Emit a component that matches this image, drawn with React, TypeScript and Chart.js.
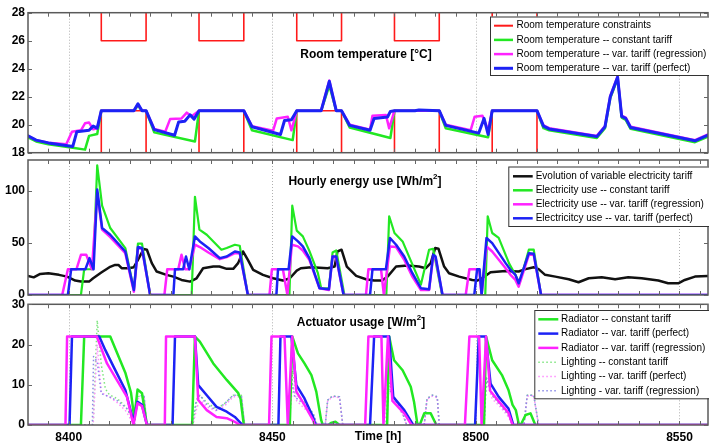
import React, { useEffect, useRef } from 'react';
import { Chart, registerables } from 'chart.js';
Chart.register(...registerables);

type Pt = [number, number];

const FONT = "'Liberation Sans', Arial, Helvetica, sans-serif";
const X_MIN = 8390;
const X_MAX = 8557;
const xTickValues = [8400, 8450, 8500, 8550];
const tempTicks = [18, 20, 22, 24, 26, 28];
const energyTicks = [0, 50, 100];
const actTicks = [0, 10, 20, 30];

// ---------- Room temperature [°C] ----------
const tempLow: Pt[] = [[8390,18],[8408,18],[8408,21],[8419,21],[8419,18],[8432,18],[8432,21],[8443,21],[8443,18],[8456,18],[8456,21],[8467,21],[8467,18],[8480,18],[8480,21],[8491,21],[8491,18],[8504,18],[8504,21],[8515,21],[8515,18],[8557,18]];
const tempHigh: Pt[] = [[8390,30],[8408,30],[8408,26],[8419,26],[8419,30],[8432,30],[8432,26],[8443,26],[8443,30],[8456,30],[8456,26],[8467,26],[8467,30],[8480,30],[8480,26],[8491,26],[8491,30],[8504,30],[8504,26],[8515,26],[8515,30],[8557,30]];
const tempConst: Pt[] = [[8390,19.1],[8392,18.8],[8395,18.6],[8401,18.35],[8404,18.22],[8405,19.2],[8407,19.33],[8408,21],[8416,21],[8417,21.35],[8418,21],[8419,21],[8421,19.45],[8431,18.8],[8432,21],[8443,21],[8445,19.6],[8455,18.9],[8456,21],[8462,21],[8464,22.8],[8465.7,21],[8467,21],[8469,19.8],[8479,19.05],[8480,21],[8491,21],[8492.6,19.75],[8503,19.1],[8504,21],[8515,21],[8516.6,19.75],[8518,19.6],[8529.7,19.05],[8531.7,19.75],[8533,21.9],[8534.8,23.3],[8535.8,20.5],[8536.8,20.35],[8538,19.7],[8553.8,18.75],[8557,19.15]];
const tempReg: Pt[] = [[8390,19.2],[8392,18.9],[8395,18.72],[8399.4,18.6],[8400.8,19.5],[8403,19.6],[8404,20.1],[8405,20.15],[8406,19.67],[8407,19.75],[8408,21],[8416,21],[8417,21.45],[8418,21],[8419,21],[8421,19.7],[8423.7,19.5],[8424.9,20.4],[8427.7,20.45],[8429,20.86],[8430.2,20.6],[8432,21],[8443,21],[8445,19.9],[8450.2,19.57],[8451.1,20.45],[8453.8,20.57],[8454.7,19.6],[8456,21],[8462,21],[8464,23.15],[8465.7,21],[8467,21],[8469,20.0],[8474,19.65],[8474.6,20.64],[8477.9,20.7],[8478.7,19.74],[8480,21],[8491,21],[8492.6,20.0],[8498.7,19.6],[8499.7,20.57],[8501.6,20.64],[8503,19.6],[8504,21],[8515,21],[8516.6,19.95],[8518,19.75],[8529.7,19.2],[8531.7,19.9],[8533,22.05],[8534.8,23.45],[8535.8,20.65],[8536.8,20.5],[8538,19.85],[8553.8,18.9],[8557,19.3]];
const tempPerfect: Pt[] = [[8390,19.2],[8392,18.9],[8395,18.7],[8401,18.45],[8402,19.5],[8405,19.6],[8406,19.9],[8407,19.75],[8408,21],[8416,21],[8417,21.5],[8418,21],[8419,21],[8421,19.65],[8426,19.25],[8427,20.2],[8428.5,20.25],[8429.8,20.7],[8430.8,20.4],[8432,21],[8443,21],[8445,19.85],[8452,19.3],[8453,20.3],[8454.7,20.35],[8456,21],[8462,21],[8464,23.1],[8465.7,21],[8467,21],[8469,19.95],[8474,19.6],[8475,20.45],[8478.3,20.55],[8479,20.95],[8480,21],[8485,21],[8486,21.05],[8491,21],[8492.6,19.95],[8500.7,19.4],[8502,20.45],[8503,19.3],[8504,21],[8515,21],[8516.6,19.9],[8518,19.7],[8529.7,19.15],[8531.7,19.85],[8533,22],[8534.8,23.4],[8535.8,20.6],[8536.8,20.45],[8538,19.8],[8553.8,18.85],[8557,19.25]];

// ---------- Hourly energy use [Wh/m2] ----------
const tariff: Pt[] = [[8390,18.4],[8391.4,17],[8393,20.3],[8395,21],[8397.6,19.4],[8399.6,17.7],[8401.6,13.9],[8403,12.9],[8405,12.9],[8406,16.1],[8408,21.6],[8410,26.8],[8411.4,29],[8412.2,29],[8413,25.8],[8414.7,25.8],[8416,26.8],[8417,33.9],[8418.4,44.2],[8419.2,43.6],[8420.4,30.7],[8421.6,22.6],[8424,19.4],[8425.7,17.7],[8427.7,14.5],[8429.8,12.9],[8431.4,16.1],[8433,25.8],[8435.5,27.4],[8437,27.4],[8438.8,25.2],[8440.4,25.2],[8441.6,30.7],[8442.8,41.9],[8444,33.9],[8445.3,24.2],[8447.7,19.4],[8450.2,16.1],[8452.6,13.9],[8454.3,16.1],[8456,23.5],[8457,25.8],[8459.6,26.8],[8463.6,25.8],[8465.3,27.4],[8466,41.9],[8467,43.6],[8468.3,27.4],[8470.6,18.4],[8473,15.2],[8475,13.9],[8477,13.9],[8478.3,17.7],[8480.4,27.4],[8483.2,28.4],[8486,27.4],[8487.7,25.8],[8488.9,30.7],[8490,45.2],[8490.8,44.6],[8492.2,27.4],[8493.4,21],[8495.9,17.7],[8499.1,14.5],[8500.3,13.9],[8501.5,16.1],[8503.6,22],[8507.3,23.2],[8510.5,22.6],[8512.2,24.9],[8514.2,26.8],[8515.4,24.9],[8517,19.4],[8519.5,17.7],[8522.8,15.2],[8525.2,12.3],[8527.7,16.1],[8530.9,17],[8534.2,15.2],[8537.4,17],[8540.7,16.1],[8544.8,13.9],[8547.2,11.3],[8549.7,11.3],[8551.3,14.5],[8553.8,17.7],[8557,18.4]];
const energyConst: Pt[] = [[8390,0],[8403,0],[8403.8,24.8],[8406,24.8],[8407,124.9],[8408.2,86],[8410.2,64.5],[8413.9,45.2],[8416,5],[8417,49.4],[8418,49.4],[8420,0],[8430.2,0],[8431,94.6],[8432.1,62.9],[8433.9,58],[8437.5,43.6],[8438.8,45.2],[8440.8,48.4],[8442,47.4],[8444,0],[8454.2,0],[8454.9,86],[8456,62],[8457.5,56.5],[8459.1,42.5],[8461.2,21],[8462,6.5],[8463.9,6.5],[8464.8,40.9],[8465.7,42.9],[8467.7,0],[8478,0],[8478.7,75.8],[8480,59.7],[8482,51.6],[8486.5,10],[8488.5,43.6],[8489.5,44.5],[8491.7,0],[8502.3,0],[8502.9,75.8],[8504,59.7],[8505.6,55],[8508.2,30],[8509.7,19.4],[8510.7,11.3],[8513,43.6],[8514.2,43.6],[8516,0],[8557,0]];
const energyReg: Pt[] = [[8390,0],[8398.4,0],[8399.8,24.8],[8401.9,24.8],[8403,38.7],[8404.3,38.7],[8405.7,24.8],[8407,98.4],[8408.2,62.9],[8410.2,55.8],[8413.9,40.3],[8416,3.2],[8417,45.2],[8418,44.2],[8420,0],[8423.5,0],[8424.2,24.8],[8426.9,24.8],[8427.7,38.7],[8428.6,24.8],[8429.6,24.8],[8431,48.4],[8432.2,46.2],[8434.3,40.9],[8437.1,34.5],[8438.8,36.5],[8440.8,40.3],[8442,40.3],[8444,0],[8449.3,0],[8449.9,24.8],[8452.6,24.8],[8453.7,0],[8454.8,48.4],[8456.3,46.8],[8457.5,42.9],[8459.1,33.9],[8461.6,6.5],[8463.9,4.8],[8464.8,37.1],[8465.7,35.5],[8467.5,0],[8473,0],[8473.6,24.8],[8476.7,24.8],[8477.4,0],[8478.9,46.8],[8480.4,46.2],[8482.4,33.9],[8484.4,17.7],[8486.5,4.8],[8488.5,4.8],[8489.5,37.1],[8490.1,35.5],[8491.8,0],[8497.5,0],[8498.4,24.8],[8500.8,24.8],[8501.4,0],[8502.6,46.8],[8504,41.9],[8507.3,25.8],[8508.5,19.4],[8509.7,14.5],[8510.5,8],[8513,38.7],[8514.2,38.7],[8516,0],[8557,0]];
const energyPerfect: Pt[] = [[8390,0],[8399.8,0],[8400.6,24.8],[8404.1,24.8],[8405.1,35.5],[8406.1,24.8],[8407,101.6],[8408.2,64.5],[8410.2,58],[8413.9,41.9],[8416,4.8],[8417,46.2],[8418,45.2],[8420,0],[8425.7,0],[8426.1,24.8],[8428.1,24.8],[8428.8,37.1],[8429.6,24.8],[8431,56.4],[8432.2,51.6],[8434.3,45.2],[8437.1,35.5],[8438.8,37.1],[8440.8,41.9],[8442,40.9],[8444,0],[8451,0],[8451.4,24.8],[8454,24.8],[8454.9,56.4],[8456.3,51.6],[8457.5,46.8],[8459.1,35.5],[8461.6,6.5],[8463.9,5.5],[8464.8,37.1],[8465.7,37.1],[8467.5,0],[8474,0],[8474.6,24.8],[8477.9,24.8],[8478.9,54.9],[8480.4,48.4],[8482.4,37.1],[8484.4,21],[8486.5,6.5],[8488.5,5.5],[8489.5,38.7],[8490.1,37],[8491.8,0],[8499.6,0],[8500.3,24.8],[8500.9,24.8],[8501.4,0],[8502.6,54.9],[8504,50],[8507.3,30.7],[8508.5,24.2],[8509.7,19.4],[8510.5,11.3],[8513,40.3],[8514.2,39.7],[8516,0],[8557,0]];

// ---------- Actuator usage [W/m2] ----------
const radConst: Pt[] = [[8390,0],[8403,0],[8403.8,22],[8410.2,22],[8413.9,13],[8415.3,8],[8416.1,1.7],[8416.9,8.8],[8418,7.9],[8419.2,0],[8430.3,0],[8431,22],[8432.2,20.7],[8435.5,15.3],[8438.8,11.2],[8441.6,8],[8442.2,6.5],[8443,0],[8454.3,0],[8454.9,22],[8456.3,17.8],[8457.9,15.3],[8459.6,12.4],[8460.8,8.3],[8462,1.2],[8462.4,0],[8463.8,0],[8464.4,0.5],[8465.5,0.8],[8466.5,0],[8478.2,0],[8478.7,22],[8479.9,16.1],[8482,13.6],[8484,9.5],[8484.8,5.8],[8485.6,0.4],[8486.2,0],[8487.3,2.9],[8488.9,2.9],[8490.3,0],[8502,0],[8502.5,22],[8504,16.1],[8506.4,12.4],[8508,8.7],[8509,5],[8509.8,3.7],[8510.5,0.4],[8511,0],[8512.2,2.5],[8513.4,2.9],[8514.6,0],[8557,0]];
const radPerfect: Pt[] = [[8390,0],[8400.2,0],[8400.8,22],[8407.5,22],[8409,18.6],[8411,14.5],[8413.9,8.7],[8415.9,0.8],[8416.9,5.8],[8418,5],[8419.2,0],[8425.5,0],[8426.1,22],[8431,22],[8431.8,9.9],[8433.9,7.4],[8436.3,4.5],[8438.8,3.3],[8440.8,2],[8442.7,0],[8451.5,0],[8452,22],[8454.7,22],[8455.9,9.9],[8457.9,6.6],[8460,2],[8460.6,0],[8474,0],[8475,22],[8478.7,22],[8479.7,7],[8482.4,3.7],[8484.6,0],[8499.8,0],[8500.7,22],[8502.4,22],[8503.6,10.3],[8505.6,7],[8508,4.1],[8509.2,0],[8557,0]];
const radReg: Pt[] = [[8390,0],[8399.2,0],[8399.6,22],[8406.9,22],[8409.4,15.3],[8411.8,11.2],[8414.3,7],[8415.9,0],[8416.9,5.4],[8418,4.7],[8419.2,0],[8423.6,0],[8423.9,22],[8431,22],[8431.8,6.2],[8433.9,3.7],[8436.3,2],[8438.8,1.7],[8440.8,0.8],[8442,0],[8449.2,0],[8449.8,22],[8453,22],[8453.8,0],[8454.9,22],[8455.9,8.3],[8457.9,5],[8460,1.2],[8460.4,0],[8472.8,0],[8473.6,22],[8476.8,22],[8477.3,0],[8478.4,22],[8479.5,6],[8482.4,2.9],[8484.2,0],[8497.3,0],[8498.4,22],[8500.8,22],[8501.4,0],[8502.5,22],[8503.5,8.5],[8505.5,6],[8508,3],[8509,0],[8557,0]];
const lightConst: Pt[] = [[8390,0],[8406,0],[8407,26],[8408,15],[8409,9],[8410,7.5],[8412,6.5],[8414,4.5],[8415.5,2],[8416,0],[8416.8,7],[8418.5,7.4],[8419.2,0],[8430.5,0],[8431.5,6.5],[8432.2,7.4],[8434,5.5],[8436.3,4],[8438.5,5.5],[8440.4,7.4],[8442.4,7.4],[8443.2,0],[8454.2,0],[8455,13.5],[8456,7.5],[8458,5.5],[8460,3],[8461,0],[8463,0],[8463.6,6.2],[8464.8,7.2],[8466.5,7],[8467.3,0],[8478,0],[8478.5,11],[8480,6.5],[8482,3],[8483,0],[8487.3,0],[8488,6.6],[8489.3,7.4],[8490.5,7],[8491,0],[8502,0],[8502.5,12],[8504,7.4],[8506,5],[8508,2.5],[8509,0],[8511.8,0],[8512.6,7.4],[8514.2,7.4],[8515.4,0],[8557,0]];
const lightPerfect: Pt[] = [[8390,0],[8406,0],[8407,20],[8408,8],[8410,7],[8412,5.5],[8414,3.5],[8415.5,1],[8416,0],[8416.8,6.5],[8418.5,7],[8419.2,0],[8430.5,0],[8431.5,4.5],[8432.5,6],[8434,4.5],[8436.3,3.5],[8438.5,5],[8440.4,7],[8442.4,7],[8443.2,0],[8454,0],[8455,10],[8456,6],[8458,4],[8460,2],[8461,0],[8463,0],[8463.6,6],[8464.8,7],[8466.5,6.8],[8467.3,0],[8477.8,0],[8478.3,10.7],[8480,6],[8482,2.5],[8483,0],[8487.3,0],[8488,6.4],[8489.3,7.2],[8490.5,6.8],[8491,0],[8502,0],[8502.5,11],[8504,6.5],[8506,4.5],[8508,2],[8509,0],[8511.8,0],[8512.6,7.2],[8514.2,7.2],[8515.4,0],[8557,0]];
const lightReg: Pt[] = [[8390,0],[8405.8,0],[8406.1,17],[8407,15.7],[8408,7.8],[8410,7],[8412,6],[8414.3,4.1],[8415.8,1.5],[8416.2,0],[8416.8,7.2],[8418.5,7.4],[8419.2,0],[8430.3,0],[8431.2,5.5],[8432.2,7.4],[8434,5],[8436.3,3.7],[8438.5,5.5],[8440.4,7.4],[8442.4,7.4],[8443.2,0],[8454,0],[8454.6,12],[8455.5,7],[8458,5],[8460,2.8],[8461,0],[8463,0],[8463.6,6.2],[8464.8,7.2],[8466.5,7],[8467.3,0],[8478,0],[8478.6,9],[8480.3,6.2],[8482,3],[8483,0],[8487.3,0],[8488,6.6],[8489.3,7.4],[8490.5,7],[8491,0],[8502,0],[8502.6,11.6],[8504,7.4],[8506,5],[8508,2.5],[8509,0],[8511.8,0],[8512.6,7.4],[8514.2,7.4],[8515.4,0],[8557,0]];

const C = {
  red: '#ff1a1a', green: '#22e822', magenta: '#ff22ff', blue: '#1c22f5', black: '#111111',
  gDot: '#7fe57f', pDot: '#ff8cff', bDot: '#8a8ae8',
};
const DOT = [1.5, 2.5];

function line(label: string, pts: Pt[], color: string, width: number, order: number, dash?: number[]) {
  return {
    label, data: pts.map(([x, y]) => ({ x, y })), borderColor: color, backgroundColor: color,
    borderWidth: width, pointRadius: 0, tension: 0, fill: false, order,
    borderDash: dash || [], borderJoinStyle: 'round', borderCapStyle: dash ? 'butt' : 'round',
  };
}

type LegendItem = { label: string; color: string; width: number; dash?: number[] };
type Decor = {
  yTicks: number[];
  title: { parts: { t: string; sup?: boolean }[]; cx: number; cy: number };
  legend: { left: number; top: number; bottom: number; lx0: number; lx1: number; tx: number; y0: number; dy: number; items: LegendItem[] };
  xTitle?: { text: string; cx: number; cy: number };
};

function makeDecor(d: Decor) {
  return {
    id: 'decor',
    beforeDatasetsDraw(chart: any) {
      const { ctx, chartArea: a, scales } = chart;
      ctx.save();
      ctx.strokeStyle = '#b0b0b0';
      ctx.lineWidth = 1;
      ctx.setLineDash([1, 2]);
      for (const v of xTickValues) {
        const px = Math.round(scales.x.getPixelForValue(v)) + 0.5;
        ctx.beginPath(); ctx.moveTo(px, a.top); ctx.lineTo(px, a.bottom); ctx.stroke();
      }
      ctx.restore();
    },
    afterDraw(chart: any) {
      const { ctx, chartArea: a, scales } = chart;
      ctx.save();
      // frame
      ctx.strokeStyle = '#5a5a5a';
      ctx.lineWidth = 1.5;
      ctx.strokeRect(a.left, a.top, a.right - a.left, a.bottom - a.top);
      // x minor ticks (every 5 h), top & bottom; y ticks left & right
      ctx.lineWidth = 1;
      ctx.strokeStyle = '#666';
      ctx.beginPath();
      for (let v = X_MIN + 5; v < X_MAX; v += 5) {
        const px = Math.round(scales.x.getPixelForValue(v)) + 0.5;
        ctx.moveTo(px, a.top); ctx.lineTo(px, a.top + 4);
        ctx.moveTo(px, a.bottom); ctx.lineTo(px, a.bottom - 4);
      }
      for (const v of d.yTicks) {
        const py = Math.round(scales.y.getPixelForValue(v)) + 0.5;
        ctx.moveTo(a.left, py); ctx.lineTo(a.left + 4, py);
        ctx.moveTo(a.right, py); ctx.lineTo(a.right - 4, py);
      }
      ctx.stroke();
      // title
      ctx.fillStyle = '#000';
      ctx.textBaseline = 'middle';
      const main = `bold 12px ${FONT}`;
      const sup = `bold 8px ${FONT}`;
      let total = 0;
      for (const p of d.title.parts) { ctx.font = p.sup ? sup : main; total += ctx.measureText(p.t).width; }
      let x = d.title.cx - total / 2;
      ctx.textAlign = 'left';
      for (const p of d.title.parts) {
        ctx.font = p.sup ? sup : main;
        ctx.fillText(p.t, x, d.title.cy + (p.sup ? -5 : 0));
        x += ctx.measureText(p.t).width;
      }
      if (d.xTitle) {
        ctx.font = main;
        ctx.textAlign = 'center';
        ctx.fillText(d.xTitle.text, d.xTitle.cx, d.xTitle.cy);
      }
      // legend
      const L = d.legend;
      ctx.fillStyle = '#fff';
      ctx.fillRect(L.left, L.top, 760 - L.left, L.bottom - L.top);
      ctx.strokeStyle = '#333';
      ctx.lineWidth = 1;
      ctx.setLineDash([]);
      ctx.strokeRect(L.left + 0.5, L.top + 0.5, 760 - L.left, L.bottom - L.top);
      ctx.font = `10px ${FONT}`;
      ctx.textAlign = 'left';
      L.items.forEach((it, i) => {
        const y = L.y0 + i * L.dy;
        ctx.strokeStyle = it.color;
        ctx.lineWidth = it.width;
        ctx.setLineDash(it.dash || []);
        ctx.beginPath(); ctx.moveTo(L.lx0, y); ctx.lineTo(L.lx1, y); ctx.stroke();
        ctx.setLineDash([]);
        ctx.fillStyle = '#000';
        ctx.fillText(it.label, L.tx, y);
      });
      ctx.restore();
    },
  };
}

function makeChart(canvas: HTMLCanvasElement, datasets: any[], yMin: number, yMax: number, yTicks: number[],
  padding: any, decor: Decor, showX: boolean) {
  return new Chart(canvas, {
    type: 'line',
    data: { datasets },
    options: {
      animation: false, responsive: false, maintainAspectRatio: false, events: [],
      layout: { padding },
      plugins: { legend: { display: false }, tooltip: { enabled: false }, title: { display: false } },
      scales: {
        x: {
          type: 'linear', min: X_MIN, max: X_MAX, display: showX,
          grid: { display: false, drawTicks: false }, border: { display: false },
          ticks: { font: { family: FONT, size: 12, weight: 'bold' }, color: '#000', padding: 5, maxRotation: 0, autoSkip: false, callback: (v: any) => String(v) },
          afterBuildTicks: (s: any) => { s.ticks = xTickValues.map((v) => ({ value: v })); },
          afterFit: (s: any) => { s.height = showX ? 20 : 0; },
        },
        y: {
          type: 'linear', min: yMin, max: yMax,
          grid: { display: false, drawTicks: false }, border: { display: false },
          ticks: { font: { family: FONT, size: 12, weight: 'bold' }, color: '#000', padding: 3, callback: (v: any) => String(v) },
          afterBuildTicks: (s: any) => { s.ticks = yTicks.map((v) => ({ value: v })); },
          afterFit: (s: any) => { s.width = 28; },
        },
      },
    } as any,
    plugins: [makeDecor(decor)],
  } as any);
}

export default function App() {
  const r1 = useRef<HTMLCanvasElement>(null);
  const r2 = useRef<HTMLCanvasElement>(null);
  const r3 = useRef<HTMLCanvasElement>(null);

  useEffect(() => {
    const c1 = makeChart(r1.current!, [
      line('Room temperature constraints', tempLow, C.red, 1.6, 3),
      line('Room temperature constraints (upper)', tempHigh, C.red, 1.6, 3),
      line('Room temperature -- constant tariff', tempConst, C.green, 2.5, 2),
      line('Room temperature -- var. tariff (regression)', tempReg, C.magenta, 2.5, 1),
      line('Room temperature -- var. tariff (perfect)', tempPerfect, C.blue, 3, 0),
    ], 18, 28, tempTicks, { top: 12.7, bottom: 292.3, left: 0, right: 1 }, {
      yTicks: tempTicks,
      title: { parts: [{ t: 'Room temperature [°C]' }], cx: 366, cy: 54.5 },
      legend: {
        left: 490, top: 16.5, bottom: 75, lx0: 494, lx1: 513, tx: 516.5, y0: 25.7, dy: 14.2,
        items: [
          { label: 'Room temperature constraints', color: C.red, width: 2 },
          { label: 'Room temperature -- constant tariff', color: C.green, width: 2.5 },
          { label: 'Room temperature -- var. tariff (regression)', color: C.magenta, width: 2.5 },
          { label: 'Room temperature -- var. tariff (perfect)', color: C.blue, width: 3 },
        ],
      },
    }, false);

    const c2 = makeChart(r2.current!, [
      line('Evolution of variable electricity tariff', tariff, C.black, 2.5, 3),
      line('Electricity use -- constant tariff', energyConst, C.green, 2.2, 2),
      line('Electricity use -- var. tariff (regression)', energyReg, C.magenta, 2.5, 1),
      line('Electricitcy use -- var. tariff (perfect)', energyPerfect, C.blue, 2.5, 0),
    ], 0, 130, energyTicks, { top: 160, bottom: 150, left: 0, right: 1 }, {
      yTicks: energyTicks,
      title: { parts: [{ t: 'Hourly energy use [Wh/m' }, { t: '2', sup: true }, { t: ']' }], cx: 365, cy: 181.7 },
      legend: {
        left: 508.3, top: 166.5, bottom: 226, lx0: 513, lx1: 532.7, tx: 535.7, y0: 176.3, dy: 14,
        items: [
          { label: 'Evolution of variable electricity tariff', color: C.black, width: 2.5 },
          { label: 'Electricity use -- constant tariff', color: C.green, width: 2.5 },
          { label: 'Electricity use -- var. tariff (regression)', color: C.magenta, width: 2.5 },
          { label: 'Electricitcy use -- var. tariff (perfect)', color: C.blue, width: 2.5 },
        ],
      },
    }, false);

    const c3 = makeChart(r3.current!, [
      line('Lighting -- constant tariff', lightConst, C.gDot, 1.5, 6, DOT),
      line('Lighting -- var. tariff (perfect)', lightPerfect, C.pDot, 1.5, 5, DOT),
      line('Lighting - var. tariff (regression)', lightReg, C.bDot, 1.5, 4, DOT),
      line('Radiator -- constant tariff', radConst, C.green, 2.5, 2),
      line('Radiator -- var. tariff (perfect)', radPerfect, C.blue, 2.5, 1),
      line('Radiator -- var. tariff (regression)', radReg, C.magenta, 2.5, 0),
    ], 0, 30, actTicks, { top: 304.3, bottom: 0, left: 0, right: 1 }, {
      yTicks: actTicks,
      title: { parts: [{ t: 'Actuator usage [W/m' }, { t: '2', sup: true }, { t: ']' }], cx: 361, cy: 322.5 },
      legend: {
        left: 534.3, top: 310, bottom: 398.3, lx0: 538.3, lx1: 558.3, tx: 561, y0: 319.3, dy: 14.3,
        items: [
          { label: 'Radiator -- constant tariff', color: C.green, width: 2.5 },
          { label: 'Radiator -- var. tariff (perfect)', color: C.blue, width: 2.5 },
          { label: 'Radiator -- var. tariff (regression)', color: C.magenta, width: 2.5 },
          { label: 'Lighting -- constant tariff', color: C.gDot, width: 1.5, dash: DOT },
          { label: 'Lighting -- var. tariff (perfect)', color: C.pDot, width: 1.5, dash: DOT },
          { label: 'Lighting - var. tariff (regression)', color: C.bDot, width: 1.5, dash: DOT },
        ],
      },
      xTitle: { text: 'Time [h]', cx: 378, cy: 437 },
    }, true);

    return () => { c1.destroy(); c2.destroy(); c3.destroy(); };
  }, []);

  const cs: React.CSSProperties = { position: 'absolute', left: 0, top: 0, width: 709, height: 445, display: 'block' };
  return (
    <div style={{ position: 'fixed', left: 0, top: 0, width: 709, height: 445, background: '#fff', overflow: 'hidden' }}>
      <canvas ref={r1} width={709} height={445} style={cs} />
      <canvas ref={r2} width={709} height={445} style={cs} />
      <canvas ref={r3} width={709} height={445} style={cs} />
    </div>
  );
}
